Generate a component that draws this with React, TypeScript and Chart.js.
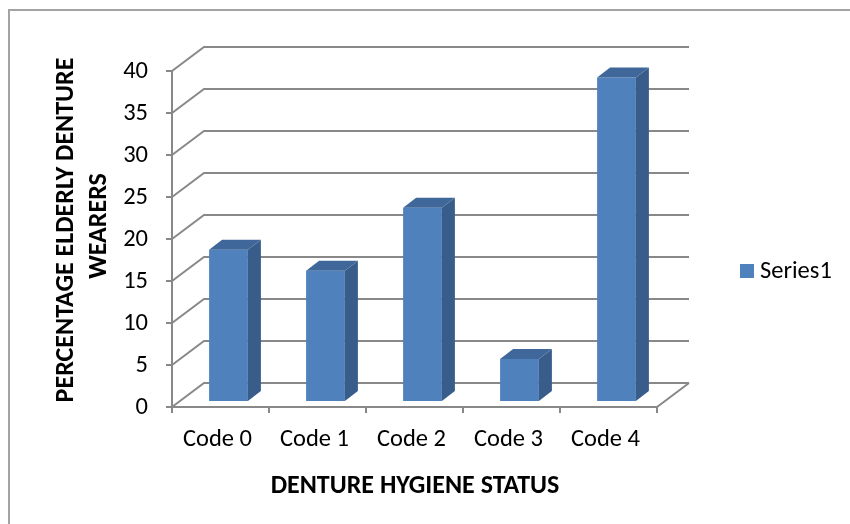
import React, { useEffect, useRef } from "react";
import { Chart, registerables } from "chart.js";

Chart.register(...registerables);

const categories = ["Code 0", "Code 1", "Code 2", "Code 3", "Code 4"];
const seriesName = "Series1";
const values = [18, 15.5, 23, 5, 38.5];
const yTicks = [0, 5, 10, 15, 20, 25, 30, 35, 40];
const xTitle = "DENTURE HYGIENE STATUS";
const yTitleLines = ["PERCENTAGE ELDERLY DENTURE", "WEARERS"];

const FONT = "Carlito, 'Open Sans', sans-serif";
const GRID = "#888888";
const FRONT = { dx: -8, dy: 6 };
const BACK = { dx: 24, dy: -18 };
const DEPTH = { dx: 13, dy: -10 };

const wallPlugin = {
  id: "wall3d",
  beforeDatasetsDraw(chart: any) {
    const ctx = chart.ctx;
    const xs = chart.scales.x;
    const ys = chart.scales.y;
    const L = xs.left;
    const R = xs.right;
    ctx.save();
    // frame
    ctx.strokeStyle = "#a3a3a3";
    ctx.lineWidth = 2;
    ctx.beginPath();
    ctx.moveTo(9, 530);
    ctx.lineTo(9, 10);
    ctx.lineTo(860, 10);
    ctx.stroke();

    ctx.strokeStyle = GRID;
    ctx.lineWidth = 2;
    yTicks.forEach((v) => {
      const y = ys.getPixelForValue(v);
      ctx.beginPath();
      ctx.moveTo(L + FRONT.dx, y + FRONT.dy);
      ctx.lineTo(L + BACK.dx, y + BACK.dy);
      ctx.lineTo(R + BACK.dx, y + BACK.dy);
      ctx.stroke();
      ctx.beginPath();
      ctx.moveTo(L + FRONT.dx - 6, y + FRONT.dy);
      ctx.lineTo(L + FRONT.dx, y + FRONT.dy);
      ctx.stroke();
    });
    const y0 = ys.getPixelForValue(0);
    const yTop = ys.getPixelForValue(40);
    ctx.beginPath();
    ctx.moveTo(L + FRONT.dx, yTop + FRONT.dy);
    ctx.lineTo(L + FRONT.dx, y0 + FRONT.dy);
    ctx.lineTo(R + FRONT.dx, y0 + FRONT.dy);
    ctx.lineTo(R + BACK.dx, y0 + BACK.dy);
    ctx.stroke();
    const step = (R - L) / categories.length;
    for (let i = 0; i <= categories.length; i++) {
      const x = L + FRONT.dx + i * step;
      ctx.beginPath();
      ctx.moveTo(x, y0 + FRONT.dy);
      ctx.lineTo(x, y0 + FRONT.dy + 6);
      ctx.stroke();
    }

    ctx.fillStyle = "#000";
    ctx.font = `24.5px ${FONT}`;
    ctx.textAlign = "right";
    ctx.textBaseline = "middle";
    yTicks.forEach((v) => {
      const y = ys.getPixelForValue(v) + FRONT.dy;
      ctx.fillText(String(v), L + FRONT.dx - 24, y + 1);
    });
    ctx.textAlign = "center";
    categories.forEach((c, i) => {
      const x = xs.getPixelForValue(i) - 11;
      ctx.fillText(c, x, 440);
    });
    ctx.fillStyle = "#4F81BD";
    ctx.fillRect(740, 264, 14, 14);
    ctx.fillStyle = "#000";
    ctx.textAlign = "left";
    ctx.fillText(seriesName, 760, 272);

    ctx.font = `bold 26px ${FONT}`;
    ctx.textAlign = "center";
    ctx.fillText(xTitle, 415, 486);

    ctx.save();
    ctx.rotate(-Math.PI / 2);
    ctx.fillText(yTitleLines[0], -230, 66);
    ctx.fillText(yTitleLines[1], -226, 99);
    ctx.restore();

    ctx.restore();
  },
  afterDatasetsDraw(chart: any) {
    const ctx = chart.ctx;
    const meta = chart.getDatasetMeta(0);
    ctx.save();
    meta.data.forEach((bar: any) => {
      const { x, y, base, width } = bar.getProps(["x", "y", "base", "width"], true);
      const l = x - width / 2;
      const r = x + width / 2;
      ctx.fillStyle = "#385D8A";
      ctx.beginPath();
      ctx.moveTo(r, y);
      ctx.lineTo(r + DEPTH.dx, y + DEPTH.dy);
      ctx.lineTo(r + DEPTH.dx, base + DEPTH.dy);
      ctx.lineTo(r, base);
      ctx.closePath();
      ctx.fill();
      ctx.fillStyle = "#3F679A";
      ctx.beginPath();
      ctx.moveTo(l, y);
      ctx.lineTo(r, y);
      ctx.lineTo(r + DEPTH.dx, y + DEPTH.dy);
      ctx.lineTo(l + DEPTH.dx, y + DEPTH.dy);
      ctx.closePath();
      ctx.fill();
    });
    ctx.restore();
  },
};

export default function App() {
  const ref = useRef<HTMLCanvasElement>(null);
  useEffect(() => {
    if (!ref.current) return;
    const chart = new Chart(ref.current, {
      type: "bar",
      data: {
        labels: categories,
        datasets: [
          {
            label: seriesName,
            data: values,
            backgroundColor: "#4F81BD",
            borderWidth: 0,
            barPercentage: 0.4,
            categoryPercentage: 1,
          },
        ],
      },
      options: {
        responsive: false,
        animation: false,
        layout: { padding: { left: 180, right: 185, top: 65, bottom: 123 } },
        scales: {
          x: { display: false },
          y: { display: false, min: 0, max: 40 },
        },
        plugins: { legend: { display: false }, tooltip: { enabled: false } },
      },
      plugins: [wallPlugin],
    });
    return () => chart.destroy();
  }, []);
  return (
    <div style={{ position: "absolute", left: 0, top: 0, width: 850, height: 524, background: "#fff" }}>
      <canvas ref={ref} width={850} height={524} style={{ display: "block" }} />
    </div>
  );
}
